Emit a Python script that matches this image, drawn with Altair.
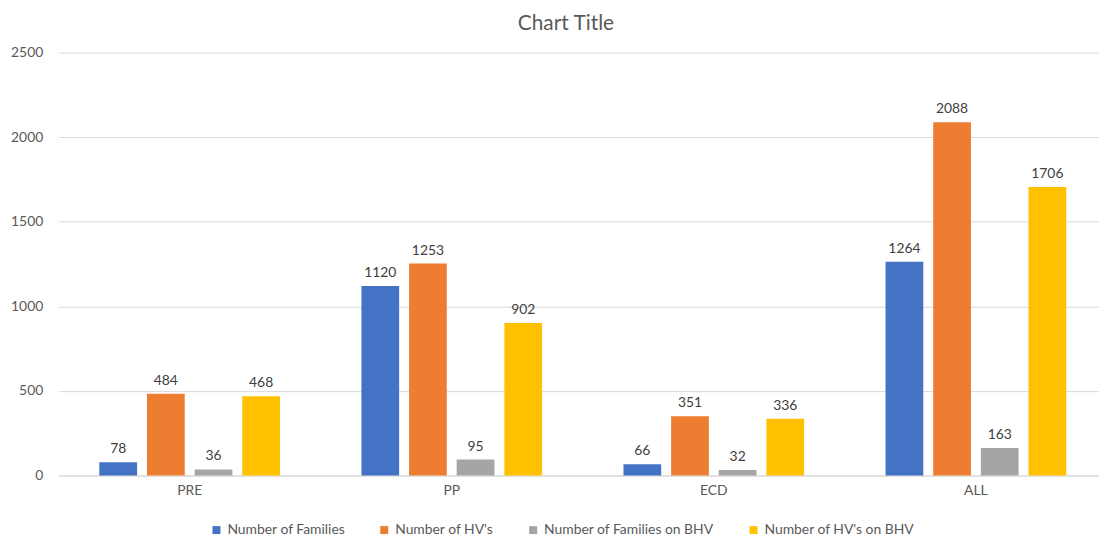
import altair as alt
import pandas as pd

categories = ["PRE", "PP", "ECD", "ALL"]
series = ["Number of Families", "Number of HV's", "Number of Families on BHV", "Number of HV's on BHV"]
colors = ["#4472C4", "#ED7D31", "#A5A5A5", "#FFC000"]
families = [78, 1120, 66, 1264]
hvs = [484, 1253, 351, 2088]
families_bhv = [36, 95, 32, 163]
hvs_bhv = [468, 902, 336, 1706]

rows = []
for s, vals in zip(series, [families, hvs, families_bhv, hvs_bhv]):
    for c, v in zip(categories, vals):
        rows.append({"cat": c, "series": s, "value": v})
df = pd.DataFrame(rows)

FONT = "Lato"

base = alt.Chart(df).encode(
    x=alt.X("cat:N", sort=categories, title=None,
            scale=alt.Scale(paddingInner=0.3106, paddingOuter=0.1402, align=0.554),
            axis=alt.Axis(labelAngle=0, ticks=False, domainColor="#D9D9D9",
                          labelColor="#595959", labelFontSize=14, labelFont=FONT,
                          labelPadding=8, grid=False)),
    xOffset=alt.XOffset("series:N", sort=series,
                        scale=alt.Scale(paddingInner=0.208, paddingOuter=0)),
)

bars = base.mark_bar().encode(
    y=alt.Y("value:Q", title=None,
            scale=alt.Scale(domain=[0, 2500], nice=False),
            axis=alt.Axis(values=[0, 500, 1000, 1500, 2000, 2500], format="d",
                          domain=False, ticks=False,
                          gridColor="#D9D9D9", labelColor="#595959", labelFontSize=14,
                          labelFont=FONT, labelPadding=16)),
    color=alt.Color("series:N", sort=series,
                    scale=alt.Scale(domain=series, range=colors),
                    legend=alt.Legend(title=None, orient="none", direction="horizontal",
                                      legendX=152, legendY=474, symbolType="square",
                                      symbolSize=64, symbolStrokeWidth=0,
                                      labelFontSize=14, labelFont=FONT, labelColor="#595959",
                                      labelLimit=400,
                                      columnPadding=32, symbolOffset=0, labelOffset=4)),
)

labels = base.mark_text(baseline="bottom", dy=-6, fontSize=14, font=FONT, color="#404040").encode(
    y=alt.Y("value:Q"),
    text=alt.Text("value:Q"),
)

chart = alt.layer(bars, labels).properties(
    width=1048, height=426,
    title=alt.TitleParams("Chart Title", fontSize=21, font=FONT, fontWeight="normal",
                          color="#595959", anchor="middle", dx=-13, offset=12),
    autosize=alt.AutoSizeParams(type="none"),
    padding={"left": 51, "top": 43, "right": 0, "bottom": 60},
).configure_view(stroke=None)

chart.save("out.html", embed_options={"renderer": "svg", "actions": False})
